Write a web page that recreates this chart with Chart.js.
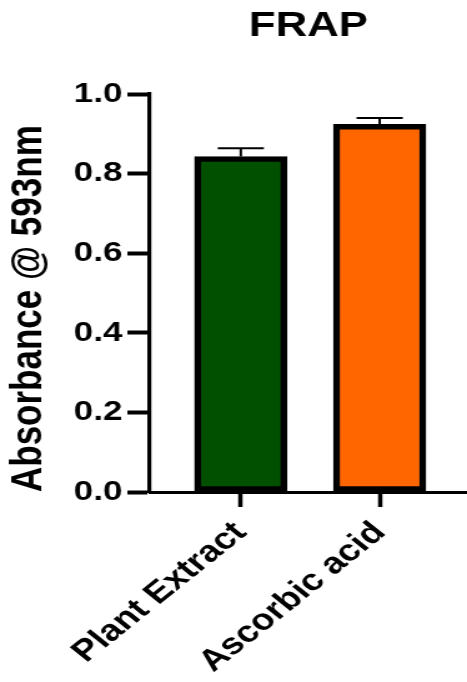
<!DOCTYPE html>
<html>
<head>
<meta charset="utf-8">
<script src="https://cdn.jsdelivr.net/npm/chart.js@4/dist/chart.umd.min.js"></script>
<style>
  body { margin: 0; background: #fff; }
  canvas { display: block; }
</style>
</head>
<body>
<!-- drawn narrow and stretched by css, the reference is wider than tall text would be -->
<canvas id="frap-chart" width="374" height="682" style="width:467px;height:682px"></canvas>
<script>
const categories = ['Plant Extract', 'Ascorbic acid'];
const absorbance = [0.843, 0.924];
const errors = [0.021, 0.016];
const barColors = ['rgb(0, 80, 0)', 'rgb(255, 102, 0)'];
const yTicks = [0, 0.2, 0.4, 0.6, 0.8, 1.0];

const font = '"Liberation Sans", Arial, sans-serif';

// error bars, only the upper half shows above the bar
const errorBars = {
    id: 'errorBars',
    afterDatasetsDraw(chart) {
        const { ctx, scales: { x, y } } = chart;
        ctx.save();
        ctx.strokeStyle = '#000';
        ctx.lineWidth = 2;
        absorbance.forEach((v, i) => {
            const px = x.getPixelForValue(i);
            const top = y.getPixelForValue(v + errors[i]);
            ctx.beginPath();
            ctx.moveTo(px, y.getPixelForValue(v));
            ctx.lineTo(px, top);
            ctx.moveTo(px - 18.5, top);
            ctx.lineTo(px + 18.5, top);
            ctx.stroke();
        });
        ctx.restore();
    },
};

new Chart(document.getElementById('frap-chart').getContext('2d'), {
    type: 'bar',
    data: {
        datasets: [{
            data: categories.map((c, i) => ({ x: i, y: absorbance[i] })),
            backgroundColor: barColors,
            borderColor: '#000',
            borderWidth: 5.5,
            borderSkipped: false,
            barThickness: 74,
        }],
    },
    options: {
        responsive: false,
        devicePixelRatio: 1,
        animation: false,
        layout: { padding: 0 },
        plugins: {
            legend: { display: false },
            tooltip: { enabled: false },
            title: {
                display: true,
                text: 'FRAP',
                fullSize: false,
                color: '#000',
                font: { family: font, size: 35, weight: 'bold' },
                padding: { top: 5, bottom: 47 },
            },
        },
        scales: {
            x: {
                type: 'linear',
                offset: false,
                min: -0.655,
                max: 1.629,
                afterFit: (s) => { s.height = 190; },
                afterBuildTicks: (s) => { s.ticks = categories.map((c, i) => ({ value: i })); },
                grid: { offset: false, drawOnChartArea: false, drawTicks: true, tickLength: 15, tickWidth: 3.5, tickColor: '#000' },
                border: { display: true, color: '#000', width: 3 },
                ticks: {
                    autoSkip: false,
                    minRotation: 45,
                    maxRotation: 45,
                    padding: 8,
                    color: '#000',
                    font: { family: font, size: 30, weight: 'bold' },
                    callback: (v) => categories[v],
                },
            },
            y: {
                min: 0,
                max: 1,
                afterFit: (s) => { s.width = 120; },
                afterBuildTicks: (s) => { s.ticks = yTicks.map((v) => ({ value: v })); },
                grid: { drawOnChartArea: false, drawTicks: true, tickLength: 18, tickWidth: 4, tickColor: '#000' },
                border: { display: true, color: '#000', width: 3.2 },
                ticks: {
                    padding: 4,
                    color: '#000',
                    font: { family: font, size: 28, weight: 'bold' },
                    callback: (v) => v.toFixed(1),
                },
                title: {
                    display: true,
                    text: 'Absorbance @ 593nm',
                    align: 'start',
                    color: '#000',
                    font: { family: font, size: 35, weight: 'bold' },
                    padding: { top: 2, bottom: 0 },
                },
            },
        },
    },
    plugins: [errorBars],
});
</script>
</body>
</html>
